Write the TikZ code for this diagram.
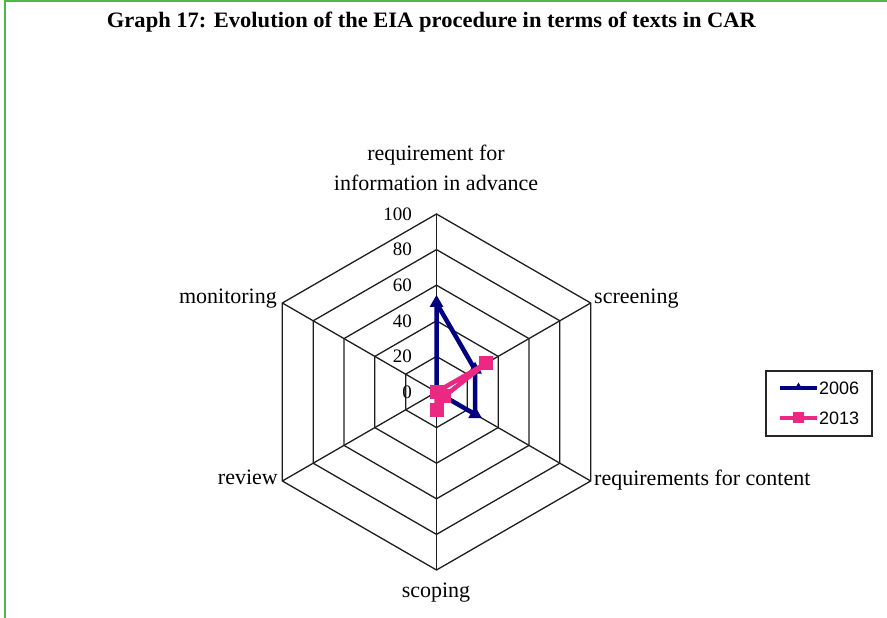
\documentclass[tikz,border=0pt]{standalone}
\usepackage{graphicx}
\usepackage{fontspec}
\setmainfont{Liberation Serif}
\newfontfamily\legendfont{Liberation Sans}
\usetikzlibrary{shapes.geometric}
\definecolor{framegreen}{RGB}{76,184,72}
\definecolor{navyline}{RGB}{0,0,128}
\definecolor{pinkline}{RGB}{236,40,130}
\definecolor{gridline}{RGB}{30,30,30}
\begin{document}
\begin{tikzpicture}[x=1pt,y=1pt,
  axislabel/.style={font=\fontsize{22}{24}\selectfont, inner sep=0pt},
  ticklabel/.style={font=\fontsize{19}{21}\selectfont, anchor=east, inner sep=0pt},
  gridring/.style={draw=gridline, line width=1.3pt},
  series/.style={line width=4.5pt, line join=round},
  trimark/.style={regular polygon, regular polygon sides=3, fill=navyline, inner sep=0pt, minimum size=16pt},
  sqmark/.style={rectangle, fill=pinkline, inner sep=0pt, minimum size=14pt},
  legendtext/.style={anchor=west, inner sep=0pt, font=\legendfont\fontsize{18}{20}\selectfont},
]
\useasboundingbox (0,0) rectangle (887,618);
\fill[white] (0,0) rectangle (887,618);
% outer frame (top and left edges)
\draw[framegreen, line width=2.5pt] (5,0) -- (5,617) -- (887,617);

% title
\node[anchor=base, inner sep=0pt] (title) at (431.5,590)
  {\resizebox{649pt}{\height}{\bfseries\fontsize{22}{24}\selectfont Graph 17: Evolution of the EIA procedure in terms of texts in CAR}};

% radar chart, 1 unit = 1.78pt
\begin{scope}[shift={(436.5,226)}]
  \foreach \r in {35.6,71.2,106.8,142.4,178}
    \draw[gridring] (90:\r) -- (30:\r) -- (-30:\r) -- (-90:\r) -- (210:\r) -- (150:\r) -- cycle;
  \foreach \a in {90,30,-30,-90,210,150}
    \draw[gridring] (0,0) -- (\a:178);
  \foreach \v in {0,20,40,60,80,100}
    \node[ticklabel] (tick\v) at (-24.5,{1.78*\v}) {\v};

  % 2006 series
  \coordinate (n1) at (90:89);
  \coordinate (n2) at (30:44.5);
  \coordinate (n3) at (-30:44.5);
  \coordinate (n4) at (0,0);
  \coordinate (n5) at (0,0);
  \coordinate (n6) at (0,0);
  % 2013 series
  \coordinate (m1) at (0,0);
  \coordinate (m2) at (30:57);
  \coordinate (m3) at (-30:8.9);
  \coordinate (m4) at (-90:17.8);
  \coordinate (m5) at (0,0);
  \coordinate (m6) at (0,0);

  \draw[series, navyline] (n1) -- (n2) -- (n3) -- (n4) -- (n5) -- (n6) -- cycle;
  \foreach \p in {n1,n2,n3,n4,n5,n6}
    \node[trimark] (mk\p) at (\p) {};
  \draw[series, pinkline] (m1) -- (m2) -- (m3) -- (m4) -- (m5) -- (m6) -- cycle;
  \foreach \p in {m1,m2,m3,m4,m5,m6}
    \node[sqmark] (mk\p) at (\p) {};
\end{scope}

% axis labels
\node[axislabel, anchor=base] (lab1a) at (436,457) {requirement for};
\node[axislabel, anchor=base] (lab1b) at (436,427) {information in advance};
\node[axislabel, anchor=base west] (lab2) at (594,314) {screening};
\node[axislabel, anchor=base west] (lab3) at (594,132) {requirements for content};
\node[axislabel, anchor=base] (lab4) at (436,20) {scoping};
\node[axislabel, anchor=base east] (lab5) at (278,133) {review};
\node[axislabel, anchor=base east] (lab6) at (277,314) {monitoring};

% legend
\draw[draw=black!85, line width=1.3pt] (766,182) rectangle (872,247);
\coordinate (la) at (780,230);
\coordinate (lb) at (817,230);
\draw[navyline, line width=4pt] (la) -- (lb);
\node[trimark, minimum size=9pt] (legtri) at (798.5,231) {};
\node[legendtext] (leg1) at (819,230) {2006};
\coordinate (lc) at (780,200);
\coordinate (ld) at (817,200);
\draw[pinkline, line width=4pt] (lc) -- (ld);
\node[sqmark, minimum size=11pt] (legsq) at (798.5,200) {};
\node[legendtext] (leg2) at (819,200) {2013};
\end{tikzpicture}
\end{document}
